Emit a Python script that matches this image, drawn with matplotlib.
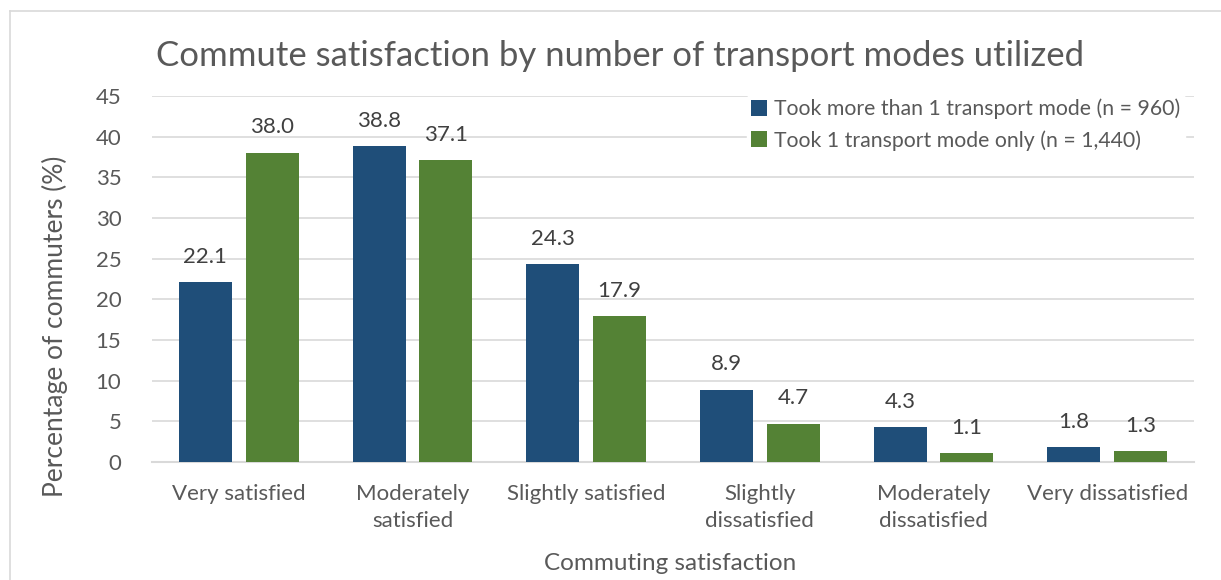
import matplotlib.pyplot as plt
import numpy as np

categories = ["Very satisfied", "Moderately\nsatisfied", "Slightly satisfied",
              "Slightly\ndissatisfied", "Moderately\ndissatisfied", "Very dissatisfied"]
multi_mode = [22.1, 38.8, 24.3, 8.9, 4.3, 1.8]
single_mode = [38.0, 37.1, 17.9, 4.7, 1.1, 1.3]
legend_labels = ["Took more than 1 transport mode (n = 960)",
                 "Took 1 transport mode only (n = 1,440)"]
yticks = [0, 5, 10, 15, 20, 25, 30, 35, 40, 45]

blue = "#1F4E79"
green = "#548235"
text_col = "#595959"
grid_col = "#D9D9D9"

plt.rcParams['font.family'] = ['Lato', 'DejaVu Sans']

fig = plt.figure(figsize=(12.21, 5.8), dpi=100)
ax = fig.add_axes([152 / 1221, 1 - 462 / 580, (1194 - 152) / 1221, (462 - 96) / 580])

x = np.arange(len(categories))
w = 0.305
gap = 0.08
b1 = ax.bar(x - (w + gap) / 2, multi_mode, w, color=blue, label=legend_labels[0], zorder=3)
b2 = ax.bar(x + (w + gap) / 2, single_mode, w, color=green, label=legend_labels[1], zorder=3)

for bars, vals in [(b1, multi_mode), (b2, single_mode)]:
    for b, v in zip(bars, vals):
        ax.text(b.get_x() + b.get_width() / 2, v + 1.9, f"{v:.1f}",
                ha="center", va="bottom", fontsize=16, color="#404040")

ax.set_xlim(-0.5, len(categories) - 0.5)
ax.set_ylim(0, 45)
ax.set_yticks(yticks)
ax.set_xticks(x)
ax.set_xticklabels(categories, linespacing=1.45)
ax.tick_params(axis="both", length=0, labelsize=16, colors=text_col)
ax.tick_params(axis="y", pad=22)
ax.tick_params(axis="x", pad=16)
ax.grid(axis="y", color=grid_col, linewidth=1.2, zorder=0)
for s in ["top", "right", "left"]:
    ax.spines[s].set_visible(False)
ax.spines["bottom"].set_color(grid_col)
ax.spines["bottom"].set_linewidth(1.5)

fig.text(55 / 1221, 1 - 326 / 580, "Percentage of commuters (%)", rotation=90,
         ha="center", va="center", fontsize=19, color=text_col)
fig.text(670 / 1221, 1 - 563 / 580, "Commuting satisfaction",
         ha="center", va="center", fontsize=17.5, color=text_col)
fig.text(620 / 1221, 1 - 56 / 580, "Commute satisfaction by number of transport modes utilized",
         ha="center", va="center", fontsize=25, color=text_col)

leg = ax.legend(loc="upper left", bbox_to_anchor=(736 / 1221, 1 - 84 / 580),
                bbox_transform=fig.transFigure, frameon=True, fontsize=15.3,
                handlelength=0.75, handleheight=0.75, handletextpad=0.35,
                labelspacing=0.5, borderpad=0.2, framealpha=1)
leg.get_frame().set_edgecolor("white")
for t in leg.get_texts():
    t.set_color(text_col)

# chart border
fig.add_artist(plt.Line2D([10 / 1221, 10 / 1221], [0, 1 - 11 / 580], color="#D9D9D9", lw=1.2))
fig.add_artist(plt.Line2D([10 / 1221, 1], [1 - 11 / 580, 1 - 11 / 580], color="#D9D9D9", lw=1.2))

fig.savefig("out.png", dpi=100)
